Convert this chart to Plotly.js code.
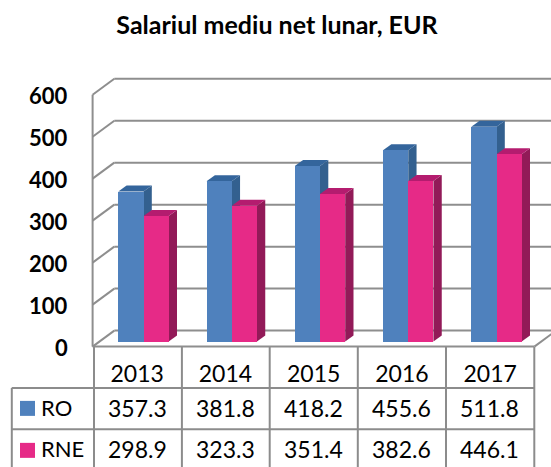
<!DOCTYPE html>
<html><head><meta charset="utf-8">
<script src="https://cdn.plot.ly/plotly-3.0.1.min.js"></script>
<style>html,body{margin:0;padding:0;background:#fff;overflow:hidden}</style>
</head><body><div id="chart" style="width:551px;height:467px"></div>
<script>
const years = ['2013','2014','2015','2016','2017'];
const ro = [357.3,381.8,418.2,455.6,511.8];
const rne = [298.9,323.3,351.4,382.6,446.1];
const yTicks = [0,100,200,300,400,500,600];

const W=551,H=467,mL=72,mT=70,zeroPx=346.7,pxPerVal=0.42,pxPerCat=88.25,cat0Px=137.2;
const yMin=-20,yMax=(zeroPx-mT)/pxPerVal;
const bottomPx=zeroPx-yMin*pxPerVal;
const px2x=p=>(p-cat0Px)/pxPerCat, px2v=p=>(zeroPx-p)/pxPerVal;
const px2fx=p=>(p-mL)/(W-mL), px2fy=p=>(bottomPx-p)/(bottomPx-mT);
const GRID='#8e8e8e', TBL='#8c8c8c';
const FONT='Lato, "Open Sans", sans-serif';
const wallDx=21.7/pxPerCat, wallDy=16/pxPerVal;
const barDx=8.3/pxPerCat, barDy=6/pxPerVal;
const barW=25.2/pxPerCat, base=5/pxPerVal, off0=-18.9/pxPerCat;

const shapes=[];
const line=(x0,y0,x1,y1,c=GRID,w=2)=>shapes.push({type:'line',xref:'x',yref:'y',x0,y0,x1,y1,layer:'below',line:{color:c,width:w}});
const leftX=px2x(92.6), rightX=px2x(534.4);
yTicks.forEach(v=>{
  line(leftX+wallDx,v+wallDy,px2x(W+5),v+wallDy);
  line(leftX,v,leftX+wallDx,v+wallDy);
});
line(leftX,0,leftX,600);
line(leftX,0,rightX,0);
line(rightX,0,rightX+wallDx,wallDy);

const poly=(pts,fill)=>shapes.push({type:'path',xref:'x',yref:'y',layer:'below',
  path:'M'+pts.map(p=>p[0]+','+p[1]).join(' L')+' Z',fillcolor:fill,line:{width:0}});
function faces(vals,off,side,top){
  vals.forEach((v,i)=>{
    const r=i+off+barW,l=i+off,t=base+v;
    poly([[r,base],[r+barDx,base+barDy],[r+barDx,t+barDy],[r,t]],side);
    poly([[l,t],[r,t],[r+barDx,t+barDy],[l+barDx,t+barDy]],top);
  });
}
faces(ro,off0,'#33608f','#34659c');
faces(rne,off0+barW,'#921a58','#b41c6f');

const pline=(x0,y0,x1,y1)=>shapes.push({type:'line',xref:'paper',yref:'paper',x0:px2fx(x0),y0:px2fy(y0),x1:px2fx(x1),y1:px2fy(y1),layer:'below',line:{color:TBL,width:2}});
const colPx=[94,181.9,269.7,357.8,446,534.3];
const row1=388,row2=429.5;
colPx.forEach(c=>pline(c,347,c,470));
pline(11.8,row1,11.8,470);
pline(11.8,row1,534.3,row1);
pline(11.8,row2,534.3,row2);
const key=(y,c)=>shapes.push({type:'rect',xref:'paper',yref:'paper',x0:px2fx(20),x1:px2fx(35),y0:px2fy(y),y1:px2fy(y+15),fillcolor:c,line:{width:0},layer:'above'});
key(401,'#4f81bd'); key(443,'#e62a87');

const ann=[];
const txt=(text,xp,yp,anchor,size=23)=>ann.push({text,xref:'paper',yref:'paper',x:px2fx(xp),y:px2fy(yp),xanchor:anchor,yanchor:'middle',showarrow:false,font:{family:FONT,size,color:'#000'}});
const center=i=>(colPx[i]+colPx[i+1])/2-0.7;
ro.forEach((v,i)=>txt(v.toFixed(1),center(i),408.5,'center'));
rne.forEach((v,i)=>txt(v.toFixed(1),center(i),449,'center'));
txt('RO',39,408,'left',22); txt('RNE',39,449,'left',22);
yTicks.forEach(v=>ann.push({text:String(v),xref:'paper',yref:'y',x:px2fx(69.5),y:v,yshift:-0.5,xanchor:'right',yanchor:'middle',showarrow:false,font:{family:FONT,size:22,weight:700,color:'#000'}}));

const bar=(name,vals,off,color)=>({type:'bar',name,x:years,y:vals,base:vals.map(()=>base),offset:off,width:barW,marker:{color,line:{width:0}},showlegend:false,hovertemplate:name+' %{x}: %{y}<extra></extra>'});

Plotly.newPlot('chart',[bar('RO',ro,off0,'#4f81bd'),bar('RNE',rne,off0+barW,'#e62a87')],{
  width:W,height:H,margin:{l:mL,r:0,t:mT,b:H-bottomPx,pad:0},
  paper_bgcolor:'#fff',plot_bgcolor:'#fff',showlegend:false,
  title:{text:'Salariul mediu net lunar, EUR',x:277/W,xanchor:'center',y:1-25/H,yanchor:'middle',font:{family:FONT,size:25,weight:700,color:'#000'}},
  xaxis:{type:'category',categoryorder:'array',categoryarray:years,range:[px2x(mL),px2x(W)],showgrid:false,zeroline:false,showline:false,ticks:'',
    tickfont:{family:FONT,size:23,color:'#000'},ticklabelstandoff:3},
  yaxis:{range:[yMin,yMax],tickmode:'array',tickvals:yTicks,showgrid:false,zeroline:false,showline:false,ticks:'',showticklabels:false},
  shapes,annotations:ann,bargap:0
},{displayModeBar:false,staticPlot:true});
</script></body></html>
